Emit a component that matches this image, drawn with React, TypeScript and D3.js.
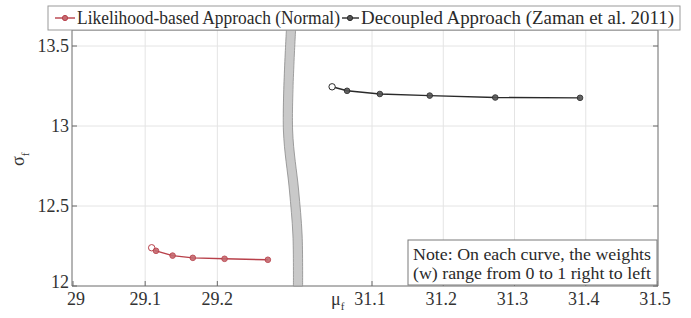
import { useEffect, useState } from "react";
import * as d3 from "d3";

// weights w = 1 ... 0 (left to right) for each approach
const likelihoodMu = [29.109, 29.115, 29.138, 29.166, 29.21, 29.27];
const likelihoodSigma = [12.239, 12.22, 12.19, 12.176, 12.17, 12.164];
const decoupledMu = [31.044, 31.065, 31.111, 31.181, 31.273, 31.392];
const decoupledSigma = [13.245, 13.22, 13.2, 13.19, 13.178, 13.176];

const leftTicks = [29, 29.1, 29.2];
const rightTicks = [31.1, 31.2, 31.3, 31.4, 31.5];
const yTicks = [12, 12.5, 13, 13.5];
const legendLabels = ["Likelihood-based Approach (Normal)", "Decoupled Approach (Zaman et al. 2011)"];
const noteLines = ["Note: On each curve, the weights", "(w) range from 0 to 1 right to left"];

const fam = '"Liberation Serif", "Times New Roman", "DejaVu Serif"';
const serif = { fontFamily: fam };
const redColor = "#b8404a";
const blackColor = "#2a2a2a";
const gridColor = "#e4e4e4";
const axisColor = "#6a6a6a";

const top = 30, bottom = 286, left = 72, right = 658;

const xLeft = d3.scaleLinear().domain([29, 29.3]).range([73, 289.5]);
const xRight = d3.scaleLinear().domain([31, 31.5]).range([300.75, 657]);
const y = d3.scaleLinear().domain([12, 13.6]).range([bottom, top]);

const line = d3.line<[number, number]>();

// the axis-break band between both panels
const breakCenter: [number, number][] = [[291, top], [288, 130], [294, 190], [297.5, 235], [298, bottom]];
const bandHalf = 4.6;
const bandEdge = d3.line<[number, number]>().curve(d3.curveCatmullRom);
const leftEdge = bandEdge(breakCenter.map(([cx, cy]) => [cx - bandHalf, cy] as [number, number])) as string;
const rightEdge = bandEdge(breakCenter.slice().reverse().map(([cx, cy]) => [cx + bandHalf, cy] as [number, number])) as string;
const bandPath = leftEdge + "L" + rightEdge.slice(1) + "Z";

const Series = ({ mu, sigma, x, color, fill }: { mu: number[]; sigma: number[]; x: d3.ScaleLinear<number, number>; color: string; fill: string }) => {
  const pts = mu.map((m, i) => [x(m), y(sigma[i])] as [number, number]);
  return (
    <g>
      <path d={line(pts) as string} fill="none" stroke={color} strokeWidth={1.4} />
      {pts.map(([px, py], i) =>
        i === 0 ? (
          <circle key={i} cx={px} cy={py} r={3.2} fill="white" stroke={color} strokeWidth={1} />
        ) : (
          <circle key={i} cx={px} cy={py} r={2.8} fill={fill} stroke={color} strokeWidth={1} opacity={0.9} />
        )
      )}
    </g>
  );
};

export default function App() {
  const [fontTick, setFontTick] = useState(0);
  useEffect(() => {
    const fonts = (document as any).fonts;
    if (fonts && fonts.load) {
      fonts.load('18px "Liberation Serif"').then(() => setFontTick((n) => n + 1)).catch(() => {});
    }
  }, []);

  return (
    <svg key={fontTick} width={691} height={318} style={{ position: "absolute", left: 0, top: 0, background: "white", fontFamily: fam }}>
      <style>{`text { font-family: ${fam}; }`}</style>
      <rect x={0} y={0} width={691} height={318} fill="white" />
      {/* grid */}
      {leftTicks.slice(1).map((t) => (
        <line key={"gl" + t} x1={xLeft(t)} x2={xLeft(t)} y1={top} y2={bottom} stroke={gridColor} />
      ))}
      {rightTicks.slice(0, -1).map((t) => (
        <line key={"gr" + t} x1={xRight(t)} x2={xRight(t)} y1={top} y2={bottom} stroke={gridColor} />
      ))}
      {yTicks.slice(1).map((t) => (
        <line key={"gy" + t} x1={left} x2={right} y1={y(t)} y2={y(t)} stroke={gridColor} />
      ))}

      {/* frame */}
      <line x1={left} x2={left} y1={top} y2={bottom} stroke={axisColor} />
      <line x1={right} x2={right} y1={top} y2={bottom} stroke={axisColor} />
      <line x1={left} x2={right} y1={bottom} y2={bottom} stroke={axisColor} />
      <line x1={left} x2={right} y1={top} y2={top} stroke={axisColor} />
      {yTicks.map((t) => (
        <g key={"ty" + t}>
          <line x1={left} x2={left + 5} y1={y(t)} y2={y(t)} stroke={axisColor} />
          <line x1={right - 5} x2={right} y1={y(t)} y2={y(t)} stroke={axisColor} />
          <text x={left - 3} y={y(t) + (t === 12 ? 2 : 6)} textAnchor="end" fontSize={18} fill="#333" style={serif}>
            {t}
          </text>
        </g>
      ))}
      {leftTicks.map((t) => (
        <g key={"tl" + t}>
          <line x1={xLeft(t)} x2={xLeft(t)} y1={bottom} y2={bottom - 5} stroke={axisColor} />
          <text x={xLeft(t) + (t === 29 ? 3 : 0)} y={bottom + 19} textAnchor="middle" fontSize={18} fill="#333" style={serif}>
            {t}
          </text>
        </g>
      ))}
      {rightTicks.map((t) => (
        <g key={"tr" + t}>
          <line x1={xRight(t)} x2={xRight(t)} y1={bottom} y2={bottom - 5} stroke={axisColor} />
          <text x={xRight(t) - 2} y={bottom + 19} textAnchor="middle" fontSize={18} fill="#333" style={serif}>
            {t}
          </text>
        </g>
      ))}

      {/* axis labels */}
      <text x={331} y={305} fontSize={18} fill="#333" style={serif}>
        μ<tspan fontSize={11} dy={5}>f</tspan>
      </text>
      <text transform="translate(24,166) rotate(-90)" fontSize={18} fill="#333" style={serif}>
        σ<tspan fontSize={11} dy={5}>f</tspan>
      </text>

      {/* break */}
      <path d={bandPath} fill="#c9c9c9" stroke="#8a8a8a" strokeWidth={0.8} />

      <Series mu={likelihoodMu} sigma={likelihoodSigma} x={xLeft} color={redColor} fill="#c46a70" />
      <Series mu={decoupledMu} sigma={decoupledSigma} x={xRight} color={blackColor} fill="#555" />

      {/* legend */}
      <rect x={48} y={6} width={632} height={24} fill="white" stroke="#9a9a9a" />
      <line x1={55} x2={75} y1={18} y2={18} stroke={redColor} strokeWidth={1.4} />
      <circle cx={65} cy={18} r={2.6} fill="#c46a70" stroke={redColor} />
      <text x={77} y={24} fontSize={18} fill="#2a2a2a" style={serif} textLength={263} lengthAdjust="spacingAndGlyphs">
        {legendLabels[0]}
      </text>
      <line x1={342} x2={359} y1={18} y2={18} stroke={blackColor} strokeWidth={1.4} />
      <circle cx={350} cy={18} r={2.6} fill="#555" stroke={blackColor} />
      <text x={361} y={24} fontSize={18} fill="#2a2a2a" style={serif} textLength={313} lengthAdjust="spacingAndGlyphs">
        {legendLabels[1]}
      </text>

      {/* note */}
      <rect x={408} y={240} width={249} height={45} fill="white" stroke="#7a7a7a" />
      {noteLines.map((s, i) => (
        <text key={i} x={413} y={260 + i * 19} fontSize={17.5} fill="#2a2a2a" style={serif} textLength={238} lengthAdjust="spacingAndGlyphs">
          {s}
        </text>
      ))}
    </svg>
  );
}
